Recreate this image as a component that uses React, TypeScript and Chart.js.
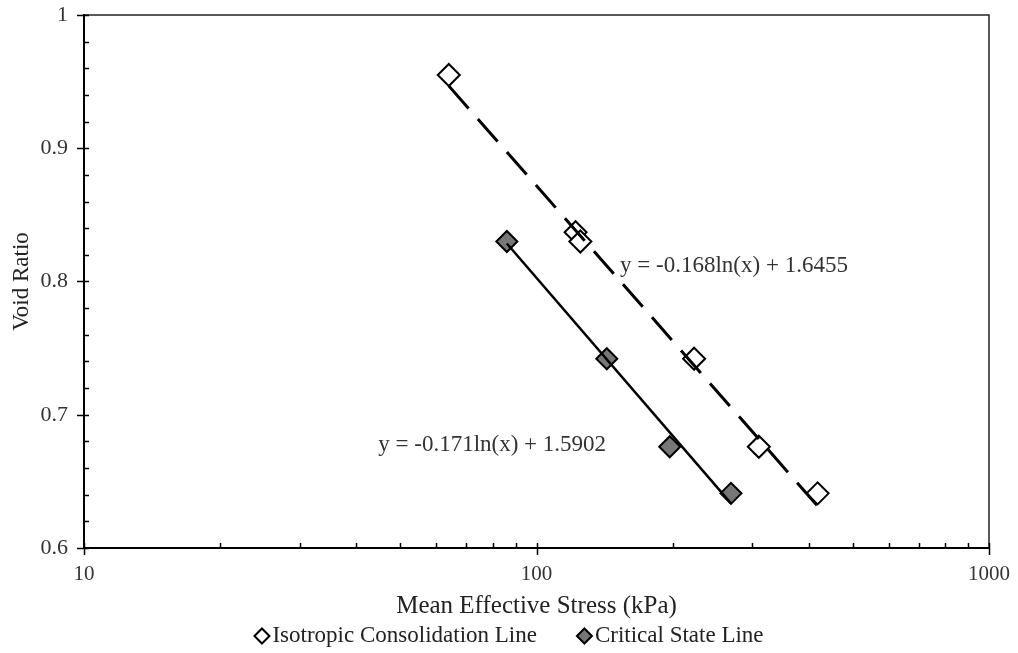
import React, { useEffect, useRef } from "react";
import { Chart, registerables } from "chart.js";

Chart.register(...registerables);

// ---- data ----
const isoStress = [64, 122, 125, 223, 310, 418];
const isoVoid = [0.955, 0.837, 0.83, 0.742, 0.676, 0.641];
const csStress = [86, 143, 197, 269];
const csVoid = [0.83, 0.742, 0.676, 0.641];

// trendline coefficients: y = a ln(x) + b
const isoTrend = [-0.168, 1.6455];
const csTrend = [-0.171, 1.5902];

const isoLabel = "Isotropic Consolidation Line";
const csLabel = "Critical State Line";
const isoEqText = "y = -0.168ln(x) + 1.6455";
const csEqText = "y = -0.171ln(x) + 1.5902";
// annotation anchor (data coords: stress, void ratio)
const isoEqAt = [153, 0.812];
const csEqAt = [44.7, 0.677];

const xTicks = [10, 100, 1000];
const xMinor = [20, 30, 40, 50, 60, 70, 80, 90, 200, 300, 400, 500, 600, 700, 800, 900];
const yMajor = [0.6, 0.7, 0.8, 0.9, 1.0];
const yMinorStep = 0.02;

const xTitle = "Mean Effective Stress (kPa)";
const yTitle = "Void Ratio";

const FONT = "'Liberation Serif', 'Times New Roman', serif";

function trendPoints(xs: number[], c: number[]) {
  const lo = Math.min(...xs);
  const hi = Math.max(...xs);
  return [lo, hi].map((x) => ({ x, y: c[0] * Math.log(x) + c[1] }));
}

const decorPlugin = {
  id: "decor",
  afterDatasetsDraw(chart: any) {
    const ctx = chart.ctx;
    const xs = chart.scales.x;
    const ys = chart.scales.y;
    ctx.save();
    ctx.fillStyle = "#333";
    ctx.font = `23px ${FONT}`;
    ctx.textAlign = "left";
    ctx.textBaseline = "middle";
    ctx.fillText(isoEqText, xs.getPixelForValue(isoEqAt[0]), ys.getPixelForValue(isoEqAt[1]));
    ctx.fillText(csEqText, xs.getPixelForValue(csEqAt[0]), ys.getPixelForValue(csEqAt[1]));
    ctx.restore();
  },
  afterDraw(chart: any) {
    const ctx = chart.ctx;
    const { left, right, top, bottom } = chart.chartArea;
    const xs = chart.scales.x;
    const ys = chart.scales.y;
    ctx.save();
    // top & right frame
    ctx.strokeStyle = "#222";
    ctx.lineWidth = 1.5;
    ctx.beginPath();
    ctx.moveTo(left, top);
    ctx.lineTo(right, top);
    ctx.lineTo(right, bottom);
    ctx.stroke();
    // ticks
    ctx.strokeStyle = "#000";
    ctx.lineWidth = 1.5;
    ctx.beginPath();
    yMajor.forEach((v) => {
      const p = Math.round(ys.getPixelForValue(v)) + 0.5;
      ctx.moveTo(left - 7, p);
      ctx.lineTo(left + 5, p);
    });
    for (let v = 0.6; v < 1.0001; v += yMinorStep) {
      const p = Math.round(ys.getPixelForValue(v)) + 0.5;
      ctx.moveTo(left, p);
      ctx.lineTo(left + 5, p);
    }
    xTicks.forEach((v) => {
      const p = Math.round(xs.getPixelForValue(v)) + 0.5;
      ctx.moveTo(p, bottom - 5);
      ctx.lineTo(p, bottom + 7);
    });
    xMinor.forEach((v) => {
      const p = Math.round(xs.getPixelForValue(v)) + 0.5;
      ctx.moveTo(p, bottom - 5);
      ctx.lineTo(p, bottom);
    });
    ctx.stroke();

    // legend
    ctx.font = `23px ${FONT}`;
    ctx.textBaseline = "middle";
    ctx.textAlign = "left";
    const r = 7.5;
    const gapMarker = 3;
    const gapItem = 40;
    const w1 = ctx.measureText(isoLabel).width;
    const w2 = ctx.measureText(csLabel).width;
    const total = 2 * r + gapMarker + w1 + gapItem + 2 * r + gapMarker + w2;
    let x = chart.width / 2 - total / 2;
    const y = 636;
    const diamond = (cx: number, fill: string) => {
      ctx.beginPath();
      ctx.moveTo(cx - r, y);
      ctx.lineTo(cx, y - r);
      ctx.lineTo(cx + r, y);
      ctx.lineTo(cx, y + r);
      ctx.closePath();
      ctx.fillStyle = fill;
      ctx.fill();
      ctx.lineWidth = 2;
      ctx.strokeStyle = "#000";
      ctx.stroke();
    };
    diamond(x + r, "#fff");
    x += 2 * r + gapMarker;
    ctx.fillStyle = "#222";
    ctx.fillText(isoLabel, x, y);
    x += w1 + gapItem;
    diamond(x + r, "#777");
    x += 2 * r + gapMarker;
    ctx.fillStyle = "#222";
    ctx.fillText(csLabel, x, y);
    ctx.restore();
  },
};

export default function App() {
  const ref = useRef<HTMLCanvasElement | null>(null);
  useEffect(() => {
    document.body.style.margin = "0";
    const canvas = ref.current!;
    const chart = new Chart(canvas, {
      type: "scatter",
      data: {
        datasets: [
          {
            label: isoLabel + " trend",
            data: trendPoints(isoStress, isoTrend),
            showLine: true,
            borderColor: "#000",
            borderWidth: 3,
            borderDash: [30, 14],
            pointRadius: 0,
            order: 0,
          },
          {
            label: csLabel + " trend",
            data: trendPoints(csStress, csTrend),
            showLine: true,
            borderColor: "#000",
            borderWidth: 2.5,
            pointRadius: 0,
            order: 0,
          },
          {
            label: isoLabel,
            data: isoStress.map((x, i) => ({ x, y: isoVoid[i] })),
            showLine: false,
            pointStyle: "rectRot",
            pointRadius: 11,
            backgroundColor: "#fff",
            borderColor: "#000",
            borderWidth: 2,
            order: 1,
          },
          {
            label: csLabel,
            data: csStress.map((x, i) => ({ x, y: csVoid[i] })),
            showLine: false,
            pointStyle: "rectRot",
            pointRadius: 10.5,
            backgroundColor: "#777",
            borderColor: "#000",
            borderWidth: 2,
            order: 1,
          },
        ],
      },
      options: {
        animation: false,
        responsive: false,
        layout: { padding: { top: 15, right: 29, left: 0, bottom: 0 } },
        plugins: {
          legend: { display: false },
          tooltip: { enabled: false },
        },
        scales: {
          x: {
            type: "logarithmic",
            min: 10,
            max: 1000,
            afterBuildTicks: (s: any) => {
              s.ticks = xTicks.map((v) => ({ value: v, major: true }));
            },
            afterFit: (s: any) => {
              s.height = 105;
              s.paddingLeft = 0;
              s.paddingRight = 0;
            },
            grid: { display: false, drawTicks: false },
            border: { display: true, color: "#000", width: 2 },
            ticks: {
              padding: 14,
              autoSkip: false,
              maxRotation: 0,
              color: "#333",
              font: { family: FONT, size: 21 },
              callback: (v: any) => String(v),
            },
            title: {
              display: true,
              text: xTitle,
              color: "#222",
              font: { family: FONT, size: 25 },
              padding: { top: 0, bottom: 32 },
            },
          },
          y: {
            min: 0.6,
            max: 1,
            afterBuildTicks: (s: any) => {
              s.ticks = yMajor.map((v) => ({ value: v }));
            },
            afterFit: (s: any) => {
              s.width = 84;
              s.paddingTop = 0;
              s.paddingBottom = 0;
            },
            grid: { display: false, drawTicks: false },
            border: { display: true, color: "#000", width: 2 },
            ticks: {
              padding: 16,
              color: "#333",
              font: { family: FONT, size: 22 },
              callback: (v: any) => String(Number(Number(v).toFixed(1))),
            },
            title: {
              display: true,
              text: yTitle,
              color: "#222",
              font: { family: FONT, size: 23 },
              padding: { top: 8, bottom: 0 },
            },
          },
        },
      },
      plugins: [decorPlugin],
    } as any);
    return () => chart.destroy();
  }, []);
  return (
    <div style={{ width: 1018, height: 653 }}>
      <canvas ref={ref} width={1018} height={653} />
    </div>
  );
}
